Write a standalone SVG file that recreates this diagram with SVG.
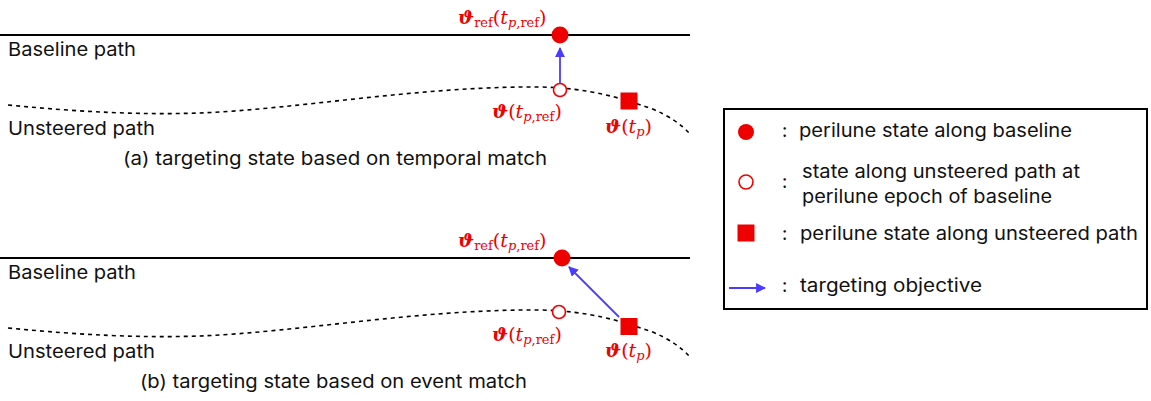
<svg xmlns="http://www.w3.org/2000/svg" width="1151" height="401" viewBox="0 0 1151 401">
<style>
.t{font-family:Inter,"Noto Sans",sans-serif;font-size:18.5px;fill:#111}
.m{font-family:"DejaVu Serif","Liberation Serif",serif;fill:#ee0000;font-size:19px}
.s{font-size:13px}
.b{font-weight:bold;font-style:italic}
.i{font-style:italic}
.base{stroke:#000;stroke-width:2;fill:none}
.dot{stroke:#000;stroke-width:1.6;fill:none;stroke-dasharray:4 4}
.arr{stroke:#4a3cff;stroke-width:1.8;fill:none}
.red{fill:#ee0000}
.ring{fill:#fff;stroke:#ee0000;stroke-width:1.6}
</style>
<defs>
<marker id="ah" viewBox="0 0 10 10" refX="9" refY="5" markerWidth="5.5" markerHeight="5.5" orient="auto" markerUnits="strokeWidth">
<path d="M0,0 L10,5 L0,10 z" fill="#4a3cff"/>
</marker>
<path id="curve" d="M8,105 C80,112 140,115 200,113 C300,109 420,86 540,87 C590,88 620,98 650,108 C670,116 682,125 690,134"/>
</defs>

<g id="panel-a">
<line class="base" x1="0" y1="35" x2="690" y2="35"/>
<use href="#curve" class="dot"/>
<text class="t" x="8" y="56" textLength="128" lengthAdjust="spacingAndGlyphs">Baseline path</text>
<text class="t" x="8" y="135" textLength="147" lengthAdjust="spacingAndGlyphs">Unsteered path</text>
<text class="t" x="123" y="165" textLength="424" lengthAdjust="spacingAndGlyphs">(a) targeting state based on temporal match</text>
</g>
<g id="panel-b">
<line class="base" x1="0" y1="258" x2="690" y2="258"/>
<use href="#curve" class="dot" transform="translate(0,223)"/>
<text class="t" x="8" y="279" textLength="128" lengthAdjust="spacingAndGlyphs">Baseline path</text>
<text class="t" x="8" y="358" textLength="147" lengthAdjust="spacingAndGlyphs">Unsteered path</text>
<text class="t" x="140" y="388" textLength="387" lengthAdjust="spacingAndGlyphs">(b) targeting state based on event match</text>
</g>

<g id="connectors">
<line class="arr" x1="560" y1="83" x2="560" y2="48" marker-end="url(#ah)"/>
<line class="arr" x1="619" y1="317" x2="569" y2="267" marker-end="url(#ah)"/>
</g>

<g id="node-a-ref">
<circle class="red" cx="560" cy="35" r="8.5"/>
<text class="m" x="458" y="24"><tspan class="b">ϑ</tspan><tspan class="s" dy="3">ref</tspan><tspan dy="-3">(</tspan><tspan class="i">t</tspan><tspan class="i s" dy="3">p</tspan><tspan class="s">,ref</tspan><tspan dy="-3">)</tspan></text>
</g>
<g id="node-a-temporal">
<circle class="ring" cx="560" cy="90" r="6.5"/>
<text class="m" x="492" y="118"><tspan class="b">ϑ</tspan>(<tspan class="i">t</tspan><tspan class="i s" dy="3">p</tspan><tspan class="s">,ref</tspan><tspan dy="-3">)</tspan></text>
</g>
<g id="node-a-perilune">
<rect class="red" x="620.5" y="92.5" width="17" height="17"/>
<text class="m" x="605" y="133"><tspan class="b">ϑ</tspan>(<tspan class="i">t</tspan><tspan class="i s" dy="3">p</tspan><tspan dy="-3">)</tspan></text>
</g>

<g id="node-b-ref">
<circle class="red" cx="562" cy="258" r="8.5"/>
<text class="m" x="458" y="247"><tspan class="b">ϑ</tspan><tspan class="s" dy="3">ref</tspan><tspan dy="-3">(</tspan><tspan class="i">t</tspan><tspan class="i s" dy="3">p</tspan><tspan class="s">,ref</tspan><tspan dy="-3">)</tspan></text>
</g>
<g id="node-b-temporal">
<circle class="ring" cx="559" cy="312" r="6.5"/>
<text class="m" x="492" y="341"><tspan class="b">ϑ</tspan>(<tspan class="i">t</tspan><tspan class="i s" dy="3">p</tspan><tspan class="s">,ref</tspan><tspan dy="-3">)</tspan></text>
</g>
<g id="node-b-perilune">
<rect class="red" x="620.5" y="318" width="17" height="17"/>
<text class="m" x="605" y="357"><tspan class="b">ϑ</tspan>(<tspan class="i">t</tspan><tspan class="i s" dy="3">p</tspan><tspan dy="-3">)</tspan></text>
</g>

<g id="legend">
<rect x="724" y="109" width="423" height="200" fill="#fff" stroke="#000" stroke-width="2"/>
<circle class="red" cx="746" cy="132" r="8"/>
<text class="t" x="782" y="137">:</text>
<text class="t" x="799" y="137" textLength="273" lengthAdjust="spacingAndGlyphs">perilune state along baseline</text>
<circle class="ring" cx="746" cy="182" r="7"/>
<text class="t" x="782" y="188">:</text>
<text class="t" x="802" y="178" textLength="278" lengthAdjust="spacingAndGlyphs">state along unsteered path at</text>
<text class="t" x="802" y="203" textLength="250" lengthAdjust="spacingAndGlyphs">perilune epoch of baseline</text>
<rect class="red" x="737.5" y="224.5" width="17" height="17"/>
<text class="t" x="782" y="240">:</text>
<text class="t" x="800" y="240" textLength="338" lengthAdjust="spacingAndGlyphs">perilune state along unsteered path</text>
<line class="arr" x1="729" y1="288" x2="765" y2="288" marker-end="url(#ah)"/>
<text class="t" x="782" y="292">:</text>
<text class="t" x="800" y="292" textLength="182" lengthAdjust="spacingAndGlyphs">targeting objective</text>
</g>
</svg>
